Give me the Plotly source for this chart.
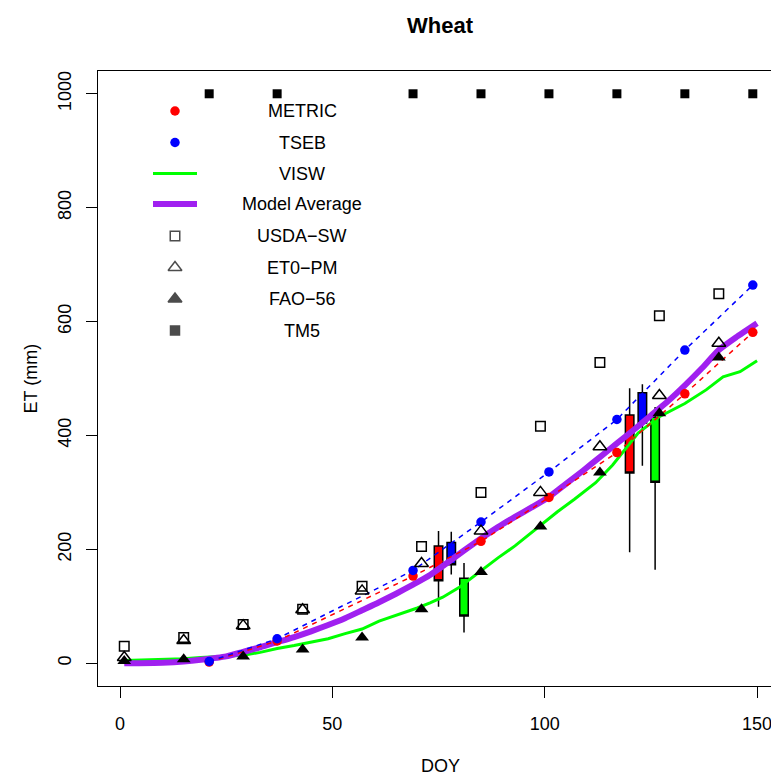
import plotly.graph_objects as go

# ---------------- data ----------------
TM5_DOY = [21, 37, 69, 85, 101, 117, 133, 149]
TM5_ET = [1000, 1000, 1000, 1000, 1000, 1000, 1000, 1000]

SAT_DOY = [21, 37, 69, 85, 101, 117, 133, 149]
METRIC_ET = [2, 39, 153, 214, 291, 370, 473, 581]
TSEB_ET = [3, 43, 163, 248, 336, 428, 550, 664]

GROUND_DOY = [1, 15, 29, 43, 57, 71, 85, 99, 113, 127, 141]
USDA_SW_ET = [30, 45, 68, 95, 135, 205, 300, 416, 528, 610, 649]
ET0_PM_ET = [10, 40, 66, 94, 127, 175, 232, 300, 380, 470, 562]
FAO56_ET = [4, 7, 12, 24, 45, 95, 160, 240, 335, 439, 537]

VISW_DOY = [1, 8, 15, 19, 25, 29, 33, 37, 41, 45, 49, 53, 57, 61, 65, 70, 73,
            76, 80, 85, 89, 93, 99, 103, 107, 112, 116, 122, 127, 133, 138,
            142, 146, 150]
VISW_ET = [5, 6, 8, 10, 12, 14, 19, 26, 31, 37, 43, 52, 60, 74, 84, 97, 106,
           116, 134, 163, 185, 206, 243, 266, 288, 317, 348, 404, 433, 456,
           480, 503, 512, 531]

AVG_DOY = [1, 10, 15, 19, 25, 29, 33, 37, 41, 45, 49, 53, 57, 61, 65, 69, 73,
           77, 81, 85, 89, 93, 97, 101, 105, 109, 113, 117, 121, 125, 129,
           133, 137, 141, 145, 150]
AVG_ET = [0, 1, 3, 6, 12, 20, 28, 37, 46, 56, 67, 79, 93, 107, 122, 138, 155,
          176, 198, 219, 239, 257, 274, 292, 315, 338, 362, 386, 410, 435, 460,
          488, 518, 550, 572, 597]

# box summaries: model, DOY, lower whisker, q1, q3, upper whisker
BOX_MODEL = ["METRIC", "TSEB", "VISW", "METRIC", "TSEB", "VISW"]
BOX_DOY = [75, 78, 81, 120, 123, 126]
BOX_LOW = [99, 156, 54, 195, 347, 164]
BOX_Q1 = [145, 173, 83, 334, 422, 318]
BOX_Q3 = [206, 212, 149, 436, 475, 432]
BOX_HIGH = [232, 231, 176, 483, 490, 450]

X_TICKS = [0, 50, 100, 150]
Y_TICKS = [0, 200, 400, 600, 800, 1000]

LEGEND_LABELS = ["METRIC", "TSEB", "VISW", "Model Average", "USDA\u2212SW",
                 "ET0\u2212PM", "FAO\u221256", "TM5"]

# ---------------- style ----------------
RED = "#FF0000"
BLUE = "#0000FF"
GREEN = "#00FF00"
PURPLE = "#A020F0"
FONT = "Liberation Sans, Arial, Helvetica, sans-serif"
COLORS = {"METRIC": RED, "TSEB": BLUE, "VISW": GREEN}

OFF = 8  # default page body margin
W, H = 779 - OFF, 776 - OFF
# plot area in page pixels: left 98, top 71, bottom 686, right beyond window
ML, MR, MT, MB = 98 - OFF, 0, 71 - OFF, 776 - 686
PW, PH = W - ML - MR, H - MT - MB


def fy(page_y):
    """page pixel y -> y2 pixel units (from plot bottom)"""
    return 686 - page_y


def px(page_x):
    return page_x - 98


fig = go.Figure()

# lines
fig.add_trace(go.Scatter(x=VISW_DOY, y=VISW_ET, mode="lines",
                         line=dict(color=GREEN, width=3), hoverinfo="skip"))
fig.add_trace(go.Scatter(x=AVG_DOY, y=AVG_ET, mode="lines",
                         line=dict(color=PURPLE, width=6, shape="spline",
                                   smoothing=0.6), hoverinfo="skip"))
fig.add_trace(go.Scatter(x=SAT_DOY, y=METRIC_ET, mode="lines+markers",
                         line=dict(color=RED, width=1.5, dash="5px,5px"),
                         marker=dict(color=RED, size=9.5, symbol="circle")))
fig.add_trace(go.Scatter(x=SAT_DOY, y=TSEB_ET, mode="lines+markers",
                         line=dict(color=BLUE, width=1.5, dash="5px,5px"),
                         marker=dict(color=BLUE, size=9.5, symbol="circle")))

# ground points
fig.add_trace(go.Scatter(x=GROUND_DOY, y=USDA_SW_ET, mode="markers",
                         marker=dict(symbol="square-open", size=9.5, color="black",
                                     line=dict(width=1.5, color="black"))))
fig.add_trace(go.Scatter(x=GROUND_DOY, y=ET0_PM_ET, mode="markers",
                         marker=dict(symbol="triangle-up-open", size=12, color="black",
                                     line=dict(width=1.5, color="black"))))
fig.add_trace(go.Scatter(x=GROUND_DOY, y=FAO56_ET, mode="markers",
                         marker=dict(symbol="triangle-up", size=12, color="black",
                                     line=dict(width=0))))
fig.add_trace(go.Scatter(x=TM5_DOY, y=TM5_ET, mode="markers",
                         marker=dict(symbol="square", size=9, color="black",
                                     line=dict(width=0))))

# boxes
for m, d, lo, q1, q3, hi in zip(BOX_MODEL, BOX_DOY, BOX_LOW, BOX_Q1, BOX_Q3, BOX_HIGH):
    fig.add_trace(go.Box(x=[d], q1=[q1], median=[q1], q3=[q3],
                         lowerfence=[lo], upperfence=[hi], width=2,
                         whiskerwidth=0, boxpoints=False,
                         fillcolor=COLORS[m], line=dict(color="black", width=1.5),
                         hoverinfo="skip"))

# ---------------- custom legend (pixel units inside plot area) ----------------
LEG_SYM_X = px(175)
LEG_TXT_X = px(302)
LEG_ROW_PY = [111, 142.5, 173.5, 204, 236, 267.5, 299, 330.5]
leg_y = [fy(p) for p in LEG_ROW_PY]

fig.add_trace(go.Scatter(x=[LEG_SYM_X] * 2, y=leg_y[0:2], mode="markers",
                         marker=dict(color=[RED, BLUE], size=9.5),
                         xaxis="x2", yaxis="y2", cliponaxis=False))
fig.add_trace(go.Scatter(x=[LEG_SYM_X - 22, LEG_SYM_X + 22], y=[leg_y[2]] * 2,
                         mode="lines", line=dict(color=GREEN, width=3),
                         xaxis="x2", yaxis="y2"))
fig.add_trace(go.Scatter(x=[LEG_SYM_X - 22, LEG_SYM_X + 22], y=[leg_y[3]] * 2,
                         mode="lines", line=dict(color=PURPLE, width=6),
                         xaxis="x2", yaxis="y2"))
fig.add_trace(go.Scatter(x=[LEG_SYM_X] * 4, y=leg_y[4:8], mode="markers",
                         marker=dict(symbol=["square-open", "triangle-up-open",
                                             "triangle-up", "square"],
                                     size=[9.5, 12, 12, 9], color="black",
                                     line=dict(width=1.5, color="black")),
                         xaxis="x2", yaxis="y2"))

annotations = []
for lab, y in zip(LEGEND_LABELS, leg_y):
    annotations.append(dict(x=LEG_TXT_X, y=y, xref="x2", yref="y2", text=lab,
                            showarrow=False, xanchor="center", yanchor="middle",
                            font=dict(size=18, color="black", family=FONT)))


def paper_x(page_x):
    return (page_x - 98) / PW


def paper_y(page_y):
    return (686 - page_y) / PH


# axis titles and main title
annotations.append(dict(x=paper_x(440.7), y=paper_y(766), xref="paper", yref="paper",
                        text="DOY", showarrow=False, xanchor="center",
                        yanchor="middle",
                        font=dict(size=18, color="black", family=FONT)))
annotations.append(dict(x=paper_x(30), y=paper_y(378.5), xref="paper", yref="paper",
                        text="ET (mm)", showarrow=False, textangle=-90,
                        xanchor="center", yanchor="middle",
                        font=dict(size=18, color="black", family=FONT)))
annotations.append(dict(x=paper_x(440.7), y=paper_y(25), xref="paper", yref="paper",
                        text="<b>Wheat</b>", showarrow=False,
                        xanchor="center", yanchor="middle",
                        font=dict(size=22, color="black", family=FONT)))

px_per_doy = 4.247
x0 = -(120 - 98) / px_per_doy
x1 = x0 + PW / px_per_doy

fig.update_layout(
    width=W, height=H,
    margin=dict(l=ML, r=MR, t=MT, b=MB, pad=0),
    paper_bgcolor="white", plot_bgcolor="white",
    showlegend=False, boxmode="overlay",
    font=dict(family=FONT, size=18, color="black"),
    annotations=annotations,
    xaxis=dict(range=[x0, x1], tickvals=X_TICKS, ticks="outside", ticklen=11,
               tickwidth=1, tickcolor="black", showgrid=False, zeroline=False,
               showline=True, linecolor="black", linewidth=1, mirror=True,
               ticklabelstandoff=10,
               tickfont=dict(size=18, family=FONT, color="black")),
    yaxis=dict(range=[-40, 1040], tickvals=Y_TICKS, ticks="outside", ticklen=11,
               tickwidth=1, tickcolor="black", showgrid=False, zeroline=False,
               showline=True, linecolor="black", linewidth=1, mirror=False,
               tickangle=-90, ticklabelstandoff=8,
               tickfont=dict(size=18, family=FONT, color="black")),
    xaxis2=dict(range=[0, PW], overlaying="x", anchor="y2", visible=False),
    yaxis2=dict(range=[0, PH], overlaying="y", anchor="x2", visible=False),
)

fig.write_html("out.html")
